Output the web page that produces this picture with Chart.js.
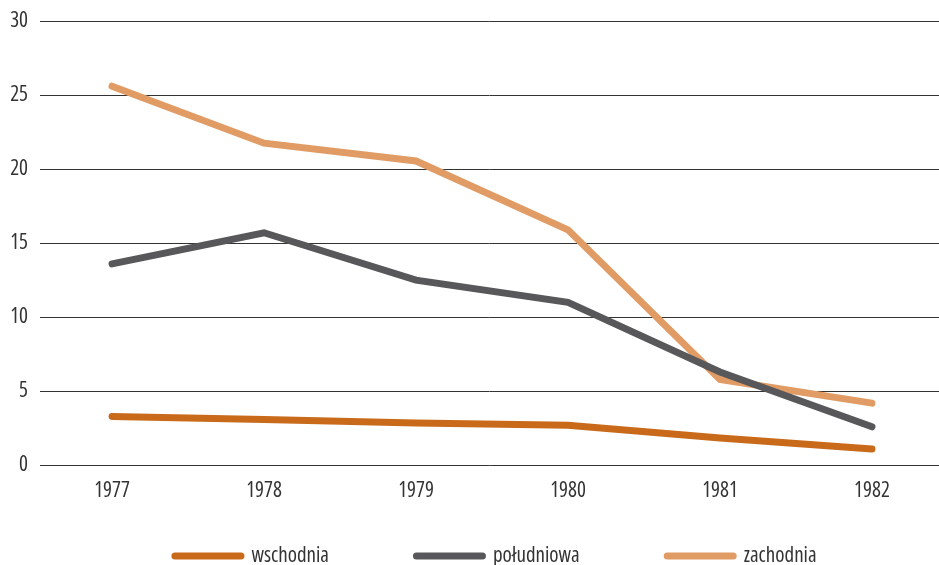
<!DOCTYPE html>
<html><head><meta charset="utf-8">
<style>html,body{margin:0;padding:0;background:#fff}#wrap{width:939px;height:565px;position:relative}</style>
<script src="https://cdn.jsdelivr.net/npm/chart.js@4"></script>
</head><body><div id="wrap"><canvas id="c" width="939" height="565"></canvas></div>
<script>
const years = ['1977','1978','1979','1980','1981','1982'];
const seriesNames = ['wschodnia','południowa','zachodnia'];
const wschodnia = [3.3, 3.1, 2.85, 2.7, 1.85, 1.1];
const poludniowa = [13.6, 15.7, 12.5, 11.0, 6.3, 2.6];
const zachodnia = [25.6, 21.75, 20.55, 15.9, 5.8, 4.2];
const yTicks = [0, 5, 10, 15, 20, 25, 30];

const FONT = "'Open Sans','Noto Sans',sans-serif";
const STRETCH = 'condensed';
const FSIZE = 21;
const colors = ['#C96A1A', '#58585A', '#E09C64'];
const toPts = arr => arr.map((v, i) => ({x: i, y: v}));
const tickFont = {family: FONT, size: FSIZE, weight: STRETCH};

const legendPlugin = {
  id: 'customLegend',
  afterDraw(chart) {
    const ctx = chart.ctx;
    ctx.save();
    ctx.font = STRETCH + ' ' + FSIZE + 'px ' + FONT;
    const boxW = 73, gapBT = 7, gapItem = 84, y = 556;
    const items = chart.data.datasets.map(d => ({label: d.label, color: d.borderColor, w: ctx.measureText(d.label).width}));
    let total = items.reduce((s, it) => s + boxW + gapBT + it.w, 0) + gapItem * (items.length - 1);
    let x = 494 - total / 2;
    items.forEach(it => {
      ctx.strokeStyle = it.color;
      ctx.lineWidth = 7;
      ctx.lineCap = 'round';
      ctx.beginPath();
      ctx.moveTo(x + 3.5, y);
      ctx.lineTo(x + boxW - 3.5, y);
      ctx.stroke();
      ctx.fillStyle = '#333';
      ctx.textBaseline = 'middle';
      ctx.textAlign = 'left';
      ctx.fillText(it.label, x + boxW + gapBT, y);
      x += boxW + gapBT + it.w + gapItem;
    });
    ctx.restore();
  }
};

new Chart(document.getElementById('c'), {
  type: 'line',
  data: {
    datasets: [
      {label: seriesNames[0], data: toPts(wschodnia), borderColor: colors[0], backgroundColor: colors[0]},
      {label: seriesNames[1], data: toPts(poludniowa), borderColor: colors[1], backgroundColor: colors[1]},
      {label: seriesNames[2], data: toPts(zachodnia), borderColor: colors[2], backgroundColor: colors[2]}
    ]
  },
  options: {
    responsive: false,
    animation: false,
    layout: {padding: {top: 21, right: 0, bottom: 50, left: 0}},
    elements: {
      line: {borderWidth: 7, tension: 0, borderCapStyle: 'round', borderJoinStyle: 'miter'},
      point: {radius: 0, hoverRadius: 0}
    },
    plugins: {legend: {display: false}, tooltip: {enabled: false}},
    scales: {
      x: {
        type: 'linear',
        min: -0.474,
        max: 5.441,
        afterBuildTicks: s => { s.ticks = years.map((y, i) => ({value: i})); },
        afterFit: s => { s.height = 49.7; s.paddingLeft = 0; s.paddingRight = 0; },
        grid: {display: false, drawTicks: false},
        border: {display: false},
        ticks: {padding: 13, color: '#333', font: tickFont, callback: v => years[v]}
      },
      y: {
        min: 0, max: 30,
        afterBuildTicks: s => { s.ticks = yTicks.map(v => ({value: v})); },
        afterFit: s => { s.width = 40; s.paddingTop = 0; s.paddingBottom = 0; },
        grid: {color: '#333', lineWidth: 1, drawTicks: false},
        border: {display: false},
        ticks: {padding: 12, color: '#333', font: tickFont}
      }
    }
  },
  plugins: [legendPlugin]
});
</script></body></html>
